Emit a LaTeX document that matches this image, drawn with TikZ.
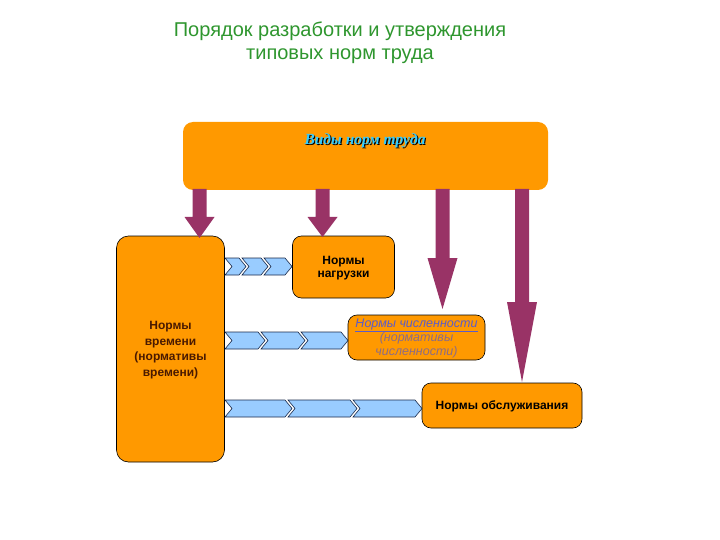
\documentclass[tikz,border=0pt]{standalone}
\usepackage{fontspec}
\setmainfont{Liberation Sans}
\newfontfamily\serifbi{Liberation Serif}
\usetikzlibrary{calc}
\definecolor{orng}{HTML}{FF9900}
\definecolor{plum}{HTML}{993366}
\definecolor{chevblue}{HTML}{99CCFF}
\definecolor{chevline}{HTML}{1A2A4A}
\definecolor{ttl}{HTML}{2E962E}
\definecolor{vidy}{HTML}{33CCFF}
\definecolor{brownt}{HTML}{4A1A00}
\definecolor{bluet}{HTML}{5C5CC8}
\definecolor{greyt}{HTML}{8C6C86}
\tikzset{
  orbox/.style={draw=black, line width=0.6pt, fill=orng, rounded corners=9pt, inner sep=0pt, align=center},
  chevshape/.style={draw=chevline, line width=0.6pt, fill=chevblue},
  bigarrow/.style={fill=plum, draw=none},
  boxtext/.style={font=\bfseries\fontsize{12}{14}\selectfont, align=center}
}
\newcommand\chev[4]{% notch x, tip x, top y, bottom y
  \filldraw[chevshape] ({#1-7},#3) -- ({#2-7},#3) -- (#2,{(#3+#4)/2}) -- ({#2-7},#4) -- ({#1-7},#4) -- (#1,{(#3+#4)/2}) -- cycle;}
\newcommand\barrow[5]{% x, y start, y head, y tip, head half-width
  \fill[bigarrow] ({#1-7},#2) -- ({#1+7},#2) -- ({#1+7},#3) -- ({#1+#5},#3) -- (#1,#4) -- ({#1-#5},#3) -- ({#1-7},#3) -- cycle;}
\begin{document}
\begin{tikzpicture}[x=1pt,y=-1pt]
\useasboundingbox (0,0) rectangle (720,540);

% title
\node[text=ttl, font=\fontsize{20}{23}\selectfont, align=center] (title) at (340,43)
  {Порядок разработки и утверждения\\типовых норм труда};

% top box
\node[fill=orng, rounded corners=10pt, minimum width=365pt, minimum height=68pt, inner sep=0pt] (top) at (365.5,156) {};
\node[text=black, font=\serifbi\bfseries\itshape\fontsize{15.5}{18}\selectfont] at (366.2,142.2) {Виды норм труда};
\node[text=vidy, font=\serifbi\bfseries\itshape\fontsize{15.5}{18}\selectfont] (vidy) at (365,141) {Виды норм труда};

% boxes
\node[orbox, minimum width=108pt, minimum height=226pt, rounded corners=12pt] (vrem) at (170.5,349) {};
\node[boxtext, text=brownt, font=\bfseries\fontsize{12}{15.5}\selectfont] at (170.5,350) {Нормы\\времени\\(нормативы\\времени)};

\node[orbox, minimum width=102pt, minimum height=62pt] (nagr) at (343.5,267) {};
\node[boxtext, font=\bfseries\fontsize{12}{13.5}\selectfont] at (343.5,268) {Нормы\\нагрузки};

\node[orbox, minimum width=137pt, minimum height=45pt] (chisl) at (416.5,337.5) {};
\node[align=center, font=\itshape\fontsize{12.5}{14}\selectfont] at (416.5,338)
  {\textcolor{bluet}{\underline{Нормы численности}}\\\textcolor{greyt}{(нормативы}\\\textcolor{greyt}{численности)}};

\node[orbox, minimum width=160pt, minimum height=45pt] (obsl) at (502,405.5) {};
\node[boxtext] at (502,406) {Нормы обслуживания};

% block arrows
\barrow{199.5}{189}{217}{238}{15}
\barrow{322.5}{189}{217}{237}{15}
\barrow{442.5}{189}{258}{309}{15}
\barrow{522}{189}{302}{382}{15}

% chevrons row 1
\chev{232}{246}{258}{275}
\chev{249}{268}{258}{275}
\chev{271}{292}{258}{275}
% row 2
\chev{232}{265}{332}{349}
\chev{268}{305}{332}{349}
\chev{308}{348}{332}{349}
% row 3
\chev{232}{292}{400}{417}
\chev{295}{357}{400}{417}
\chev{360}{422}{400}{417}
\end{tikzpicture}
\end{document}
